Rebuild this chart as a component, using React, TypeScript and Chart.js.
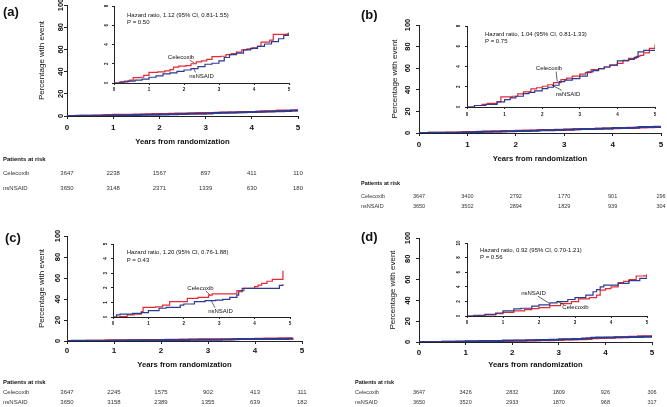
import React, { useEffect, useRef } from "react";
import { Chart, registerables } from "chart.js";

Chart.register(...registerables);

const FONT = '"Liberation Sans", Arial, Helvetica, sans-serif';
const RED = "#e52a33";
const BLUE = "#2c3b92";
const AXIS = "#222222";
const TEXT = "#111111";

// ---------------- Data ----------------
const yearTicks = [0, 1, 2, 3, 4, 5];
const mainYTicks = [0, 20, 40, 60, 80, 100];
const insetYTicksA = [0, 2, 4, 6, 8];
const insetYTicksB = [0, 2, 4, 6, 8];
const insetYTicksC = [0, 1, 2, 3, 4, 5];
const insetYTicksD = [0, 2, 4, 6, 8, 10];
const seriesNames = ["Celecoxib", "nsNSAID"];
const riskTitle = "Patients at risk";
const xTitle = "Years from randomization";
const yTitle = "Percentage with event";
const panelLabels = ["(a)", "(b)", "(c)", "(d)"];
const hazardTexts = [
  "Hazard ratio, 1.12 (95% CI, 0.81-1.55)",
  "Hazard ratio, 1.04 (95% CI, 0.81-1.33)",
  "Hazard ratio, 1.20 (95% CI, 0.76-1.88)",
  "Hazard ratio, 0.92 (95% CI, 0.70-1.21)",
];
const pTexts = ["P = 0.50", "P = 0.75", "P = 0.43", "P = 0.56"];

// Panel (a)
const aCelecoxibT = [0, 0.15, 0.3, 0.45, 0.55, 0.75, 0.85, 1.0, 1.25, 1.45, 1.6, 1.7, 1.85, 2.05, 2.2, 2.35, 2.5, 2.65, 2.8, 3.05, 3.2, 3.35, 3.5, 3.65, 3.8, 3.95, 4.1, 4.2, 4.45, 4.55, 4.95, 5.0];
const aCelecoxibV = [0, 0.1, 0.2, 0.3, 0.55, 0.6, 0.8, 1.1, 1.15, 1.25, 1.4, 1.65, 1.75, 1.8, 2.0, 2.2, 2.3, 2.45, 2.75, 2.78, 2.95, 3.05, 3.2, 3.45, 3.55, 3.65, 3.8, 4.25, 4.45, 5.05, 5.1, 5.15];
const aNsaidT = [0, 0.2, 0.4, 0.6, 0.8, 1.0, 1.2, 1.4, 1.6, 1.8, 2.0, 2.2, 2.4, 2.6, 2.8, 3.0, 3.15, 3.3, 3.5, 3.7, 3.9, 4.1, 4.3, 4.5, 4.7, 4.85, 5.0];
const aNsaidV = [0, 0.12, 0.2, 0.3, 0.4, 0.6, 0.75, 0.95, 1.05, 1.2, 1.35, 1.5, 1.7, 1.95, 2.05, 2.3, 2.65, 2.95, 3.1, 3.45, 3.6, 3.8, 4.05, 4.3, 4.6, 4.95, 5.25];
const aCelecoxibRisk = [3647, 2238, 1567, 897, 411, 110];
const aNsaidRisk = [3650, 3148, 2371, 1339, 630, 180];

// Panel (b)
const bCelecoxibT = [0, 0.2, 0.4, 0.55, 0.8, 0.9, 1.2, 1.35, 1.5, 1.7, 1.85, 2.0, 2.15, 2.3, 2.5, 2.65, 2.8, 3.0, 3.15, 3.3, 3.5, 3.65, 3.8, 4.0, 4.15, 4.3, 4.5, 4.6, 4.7, 4.85, 5.0];
const bCelecoxibV = [0, 0.15, 0.25, 0.35, 0.5, 1.0, 1.06, 1.3, 1.5, 1.8, 1.9, 2.05, 2.2, 2.4, 2.7, 2.85, 3.05, 3.25, 3.4, 3.7, 3.8, 3.95, 4.13, 4.3, 4.55, 4.8, 5.0, 5.1, 5.35, 5.8, 6.2];
const bNsaidT = [0, 0.2, 0.5, 0.8, 1.0, 1.15, 1.3, 1.5, 1.65, 1.8, 2.0, 2.15, 2.3, 2.45, 2.6, 2.8, 3.0, 3.2, 3.35, 3.5, 3.65, 3.8, 4.0, 4.15, 4.3, 4.45, 4.55, 4.7, 5.0];
const bNsaidV = [0, 0.15, 0.26, 0.5, 0.73, 0.9, 1.06, 1.32, 1.45, 1.6, 1.82, 1.95, 2.15, 2.5, 2.65, 2.8, 3.05, 3.47, 3.6, 3.8, 3.95, 4.13, 4.56, 4.6, 4.7, 4.9, 5.45, 5.6, 5.65];
const bCelecoxibRisk = [3647, 3400, 2792, 1770, 901, 296];
const bNsaidRisk = [3650, 3502, 2894, 1829, 939, 304];

// Panel (c)
const cCelecoxibT = [0, 0.2, 0.4, 0.6, 0.8, 0.85, 1.2, 1.4, 1.6, 2.1, 2.4, 2.7, 2.8, 3.5, 3.7, 4.0, 4.1, 4.2, 4.35, 4.5, 4.8];
const cCelecoxibV = [0, 0.03, 0.14, 0.2, 0.37, 0.66, 0.7, 0.82, 1.05, 1.28, 1.35, 1.5, 1.58, 1.8, 1.96, 2.08, 2.18, 2.3, 2.45, 2.58, 3.17];
const cNsaidT = [0, 0.1, 0.2, 0.55, 0.8, 1.0, 1.3, 1.5, 1.9, 2.0, 2.3, 2.6, 2.9, 3.1, 3.3, 3.5, 3.55, 3.65, 4.7, 4.8];
const cNsaidV = [0, 0.14, 0.2, 0.25, 0.3, 0.43, 0.6, 0.66, 0.82, 0.89, 1.05, 1.12, 1.16, 1.21, 1.35, 1.5, 1.73, 1.96, 2.17, 2.24];
const cCelecoxibRisk = [3647, 2245, 1575, 902, 413, 111];
const cNsaidRisk = [3650, 3158, 2389, 1355, 639, 182];

// Panel (d)
const dCelecoxibT = [0, 0.3, 0.5, 0.8, 1.0, 1.3, 1.6, 1.8, 2.0, 2.3, 2.6, 2.9, 3.1, 3.4, 3.6, 3.7, 3.85, 4.0, 4.2, 4.35, 4.5, 4.7, 4.9, 5.0];
const dCelecoxibV = [0, 0.05, 0.14, 0.32, 0.5, 0.69, 0.88, 1.0, 1.15, 1.43, 1.7, 1.98, 2.35, 2.53, 2.86, 3.55, 3.75, 4.0, 4.56, 4.75, 5.0, 5.48, 5.5, 5.76];
const dNsaidT = [0, 0.2, 0.5, 0.8, 1.0, 1.3, 1.5, 1.8, 2.0, 2.3, 2.5, 2.8, 3.0, 3.3, 3.5, 3.6, 3.7, 3.8, 4.2, 4.5, 4.8, 5.0];
const dNsaidV = [0, 0.1, 0.23, 0.41, 0.69, 0.97, 1.06, 1.34, 1.52, 1.8, 1.98, 2.26, 2.53, 2.86, 3.32, 3.6, 4.0, 4.24, 4.47, 4.84, 5.16, 5.48];
const dCelecoxibRisk = [3647, 3426, 2832, 1809, 926, 306];
const dNsaidRisk = [3650, 3520, 2933, 1870, 968, 317];

// ---------------- Layout (page pixels) ----------------
type MainLayout = {
  cx: number; cy: number; cw: number; ch: number;
  L: number; T: number; R: number; B: number;
  yTickX: number; yTitleX: number; xTickY: number; xTitleY: number;
  rows: number[]; tableX: number; tableFont: number; labelX: number; labelY: number;
};
type InsetLayout = {
  L: number; T: number; R: number; B: number;
  xTickY: number; yTickX: number; hx: number; hy: number; py: number;
  celLabel: number[]; nsLabel: number[];
  celPtr: number[][]; nsPtr: number[][];
};
type Panel = {
  label: string; celT: number[]; celV: number[]; nsT: number[]; nsV: number[];
  celRisk: number[]; nsRisk: number[]; hazard: string; p: string;
  insetTicks: number[]; main: MainLayout; inset: InsetLayout;
};

const panels: Panel[] = [
  {
    label: panelLabels[0], celT: aCelecoxibT, celV: aCelecoxibV, nsT: aNsaidT, nsV: aNsaidV,
    celRisk: aCelecoxibRisk, nsRisk: aNsaidRisk, hazard: hazardTexts[0], p: pTexts[0], insetTicks: insetYTicksA,
    main: { cx: 0, cy: 0, cw: 334, ch: 200, L: 67, T: 5, R: 298, B: 116, yTickX: 60.5, yTitleX: 42, xTickY: 128, xTitleY: 142, rows: [159, 173, 188], tableX: 3, tableFont: 6, labelX: 3, labelY: 12.5 },
    inset: { L: 114, T: 6, R: 289, B: 83, xTickY: 90, yTickX: 107, hx: 127, hy: 15, py: 22.5, celLabel: [181, 57], nsLabel: [201.5, 76], celPtr: [[2.16, 2.38], [2.3, 2.05]], nsPtr: [[2.33, 1.1], [2.27, 1.55]] },
  },
  {
    label: panelLabels[1], celT: bCelecoxibT, celV: bCelecoxibV, nsT: bNsaidT, nsV: bNsaidV,
    celRisk: bCelecoxibRisk, nsRisk: bNsaidRisk, hazard: hazardTexts[1], p: pTexts[1], insetTicks: insetYTicksB,
    main: { cx: 334, cy: 0, cw: 333, ch: 214, L: 419, T: 25, R: 661, B: 133, yTickX: 407.5, yTitleX: 395, xTickY: 145, xTitleY: 159, rows: [183, 196, 206], tableX: 361, tableFont: 5.5, labelX: 361, labelY: 15 },
    inset: { L: 467, T: 26, R: 655, B: 107, xTickY: 115, yTickX: 459, hx: 485, hy: 34.3, py: 41.7, celLabel: [549, 68], nsLabel: [568, 94], celPtr: [[2.37, 3.5], [2.4, 2.5]], nsPtr: [[2.52, 1.65], [2.26, 2.15]] },
  },
  {
    label: panelLabels[2], celT: cCelecoxibT, celV: cCelecoxibV, nsT: cNsaidT, nsV: cNsaidV,
    celRisk: cCelecoxibRisk, nsRisk: cNsaidRisk, hazard: hazardTexts[2], p: pTexts[2], insetTicks: insetYTicksC,
    main: { cx: 0, cy: 200, cw: 334, ch: 207, L: 67, T: 236, R: 302, B: 341, yTickX: 58, yTitleX: 42, xTickY: 351, xTitleY: 364.5, rows: [382, 392, 402], tableX: 3, tableFont: 6, labelX: 5, labelY: 238 },
    inset: { L: 113, T: 244, R: 290, B: 317, xTickY: 324, yTickX: 106, hx: 126.7, hy: 252.7, py: 260, celLabel: [200.5, 288], nsLabel: [220.5, 311], celPtr: [[2.62, 1.8], [2.74, 1.5]], nsPtr: [[2.88, 0.64], [2.78, 1.1]] },
  },
  {
    label: panelLabels[3], celT: dCelecoxibT, celV: dCelecoxibV, nsT: dNsaidT, nsV: dNsaidV,
    celRisk: dCelecoxibRisk, nsRisk: dNsaidRisk, hazard: hazardTexts[3], p: pTexts[3], insetTicks: insetYTicksD,
    main: { cx: 334, cy: 214, cw: 333, ch: 193, L: 419, T: 238, R: 652, B: 342, yTickX: 408, yTitleX: 393, xTickY: 353, xTitleY: 365, rows: [382, 392, 402], tableX: 355, tableFont: 5.5, labelX: 361, labelY: 237 },
    inset: { L: 467, T: 243, R: 647, B: 316, xTickY: 322.7, yTickX: 459, hx: 480, hy: 250, py: 257, celLabel: [575.5, 307], nsLabel: [533.5, 293], celPtr: [[2.7, 1.55], [2.5, 2.05]], nsPtr: [[1.97, 2.72], [2.28, 1.75]] },
  },
];

// ---------------- Chart helpers ----------------
const toPoints = (t: number[], v: number[]) => t.map((x, i) => ({ x, y: v[i] }));

function axis(min: number, max: number, ticks: number[], tickLen: number, isX: boolean) {
  return {
    type: "linear",
    min,
    max,
    afterFit: (s: any) => {
      if (isX) s.height = 0;
      else s.width = 0;
    },
    afterBuildTicks: (s: any) => {
      s.ticks = ticks.map((v) => ({ value: v }));
    },
    ticks: { display: false },
    grid: { display: true, drawOnChartArea: false, drawTicks: true, tickLength: tickLen, color: AXIS, lineWidth: 1 },
    border: { display: true, color: AXIS, width: 1 },
  };
}

function datasets(p: Panel, width: number) {
  return [
    { label: seriesNames[1], data: toPoints(p.nsT, p.nsV), borderColor: BLUE, backgroundColor: BLUE, borderWidth: width, stepped: true, pointRadius: 0, fill: false },
    { label: seriesNames[0], data: toPoints(p.celT, p.celV), borderColor: RED, backgroundColor: RED, borderWidth: width, stepped: true, pointRadius: 0, fill: false },
  ];
}

function mainConfig(p: Panel): any {
  const m = p.main;
  const plugin = {
    id: "mainText",
    afterDraw(chart: any) {
      const ctx = chart.ctx;
      const xs = chart.scales.x;
      const ys = chart.scales.y;
      const ca = chart.chartArea;
      const ox = m.cx;
      const oy = m.cy;
      ctx.save();
      ctx.fillStyle = TEXT;
      ctx.textBaseline = "middle";
      ctx.textAlign = "left";
      ctx.font = `bold 13px ${FONT}`;
      ctx.fillText(p.label, m.labelX - ox, m.labelY - oy);

      ctx.font = `bold 7.5px ${FONT}`;
      ctx.textAlign = "center";
      ys.ticks.forEach((t: any) => {
        const y = ys.getPixelForValue(t.value);
        ctx.save();
        ctx.translate(m.yTickX - ox, y);
        ctx.rotate(-Math.PI / 2);
        ctx.fillText(String(t.value), 0, 0);
        ctx.restore();
      });

      ctx.font = `bold 8px ${FONT}`;
      xs.ticks.forEach((t: any) => {
        ctx.fillText(String(t.value), xs.getPixelForValue(t.value), m.xTickY - oy);
      });

      ctx.font = `bold 7.7px ${FONT}`;
      ctx.fillText(xTitle, (ca.left + ca.right) / 2, m.xTitleY - oy);

      ctx.font = `8px ${FONT}`;
      ctx.save();
      ctx.translate(m.yTitleX - ox, (ca.top + ca.bottom) / 2);
      ctx.rotate(-Math.PI / 2);
      ctx.fillText(yTitle, 0, 0);
      ctx.restore();

      ctx.textAlign = "left";
      ctx.font = `bold ${m.tableFont}px ${FONT}`;
      ctx.fillText(riskTitle, m.tableX - ox, m.rows[0] - oy);
      ctx.font = `${m.tableFont}px ${FONT}`;
      ctx.fillStyle = "#333333";
      ctx.fillText(seriesNames[0], m.tableX - ox, m.rows[1] - oy);
      ctx.fillText(seriesNames[1], m.tableX - ox, m.rows[2] - oy);
      ctx.textAlign = "center";
      yearTicks.forEach((yr, i) => {
        const x = xs.getPixelForValue(yr);
        ctx.fillText(String(p.celRisk[i]), x, m.rows[1] - oy);
        ctx.fillText(String(p.nsRisk[i]), x, m.rows[2] - oy);
      });
      ctx.restore();
    },
  };
  return {
    type: "line",
    data: { datasets: datasets(p, 2) },
    options: {
      responsive: false,
      animation: false,
      devicePixelRatio: 1,
      events: [],
      layout: { padding: { left: m.L - m.cx, top: m.T - m.cy, right: m.cx + m.cw - m.R, bottom: m.cy + m.ch - m.B } },
      plugins: { legend: { display: false }, tooltip: { enabled: false }, title: { display: false } },
      scales: {
        x: axis(0, 5, yearTicks, 3, true),
        y: axis(0, 100, mainYTicks, 3, false),
      },
    },
    plugins: [plugin],
  };
}

const IL = 16, IT = 4, IR = 6, IB = 12;

function insetRect(n: InsetLayout) {
  return { cx: n.L - IL, cy: n.T - IT, cw: n.R - n.L + IL + IR, ch: n.B - n.T + IT + IB };
}

function insetConfig(p: Panel): any {
  const n = p.inset;
  const r = insetRect(n);
  const ymax = p.insetTicks[p.insetTicks.length - 1];
  const plugin = {
    id: "insetText",
    afterDraw(chart: any) {
      const ctx = chart.ctx;
      const xs = chart.scales.x;
      const ys = chart.scales.y;
      const ox = r.cx;
      const oy = r.cy;
      ctx.save();
      ctx.fillStyle = TEXT;
      ctx.textBaseline = "middle";
      ctx.textAlign = "center";
      ctx.font = `bold 4.5px ${FONT}`;
      ys.ticks.forEach((t: any) => {
        ctx.save();
        ctx.translate(n.yTickX - ox, ys.getPixelForValue(t.value));
        ctx.rotate(-Math.PI / 2);
        ctx.fillText(String(t.value), 0, 0);
        ctx.restore();
      });
      xs.ticks.forEach((t: any) => {
        ctx.fillText(String(t.value), xs.getPixelForValue(t.value), n.xTickY - oy);
      });
      ctx.font = `6px ${FONT}`;
      ctx.textAlign = "left";
      ctx.fillText(p.hazard, n.hx - ox, n.hy - oy);
      ctx.fillText(p.p, n.hx - ox, n.py - oy);
      ctx.textAlign = "center";
      ctx.fillText(seriesNames[0], n.celLabel[0] - ox, n.celLabel[1] - oy);
      ctx.fillText(seriesNames[1], n.nsLabel[0] - ox, n.nsLabel[1] - oy);
      ctx.strokeStyle = "#222222";
      ctx.lineWidth = 0.7;
      [n.celPtr, n.nsPtr].forEach((ptr) => {
        ctx.beginPath();
        ctx.moveTo(xs.getPixelForValue(ptr[0][0]), ys.getPixelForValue(ptr[0][1]));
        ctx.lineTo(xs.getPixelForValue(ptr[1][0]), ys.getPixelForValue(ptr[1][1]));
        ctx.stroke();
      });
      ctx.restore();
    },
  };
  return {
    type: "line",
    data: { datasets: datasets(p, 1.2) },
    options: {
      responsive: false,
      animation: false,
      devicePixelRatio: 1,
      events: [],
      layout: { padding: { left: IL, top: IT, right: IR, bottom: IB } },
      plugins: { legend: { display: false }, tooltip: { enabled: false }, title: { display: false } },
      scales: {
        x: axis(0, 5, yearTicks, 2, true),
        y: axis(0, ymax, p.insetTicks, 2, false),
      },
    },
    plugins: [plugin],
  };
}

function ChartCanvas(props: { left: number; top: number; width: number; height: number; make: () => any }) {
  const ref = useRef<HTMLCanvasElement | null>(null);
  useEffect(() => {
    if (!ref.current) return;
    const chart = new Chart(ref.current, props.make());
    return () => chart.destroy();
  }, []);
  return (
    <canvas
      ref={ref}
      width={props.width}
      height={props.height}
      style={{ position: "absolute", left: props.left, top: props.top, width: props.width, height: props.height, display: "block" }}
    />
  );
}

export default function App() {
  return (
    <div style={{ position: "fixed", left: 0, top: 0, width: 667, height: 407, background: "#ffffff", overflow: "hidden" }}>
      {panels.map((p, i) => (
        <ChartCanvas key={"m" + i} left={p.main.cx} top={p.main.cy} width={p.main.cw} height={p.main.ch} make={() => mainConfig(p)} />
      ))}
      {panels.map((p, i) => {
        const r = insetRect(p.inset);
        return <ChartCanvas key={"i" + i} left={r.cx} top={r.cy} width={r.cw} height={r.ch} make={() => insetConfig(p)} />;
      })}
    </div>
  );
}
